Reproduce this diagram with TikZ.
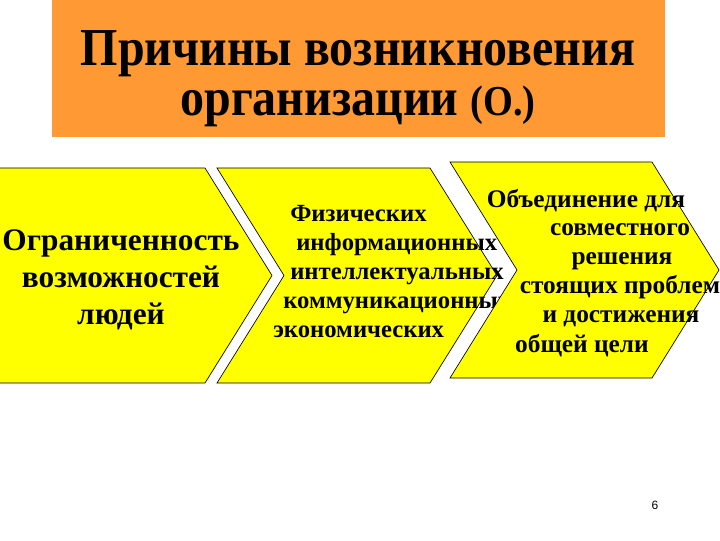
\documentclass[tikz,border=0pt]{standalone}
\usepackage{fontspec}
\setmainfont{Liberation Serif}
\setsansfont{Liberation Sans}
\definecolor{titleorange}{RGB}{255,153,51}
\definecolor{chevronyellow}{RGB}{255,255,0}
\newcommand{\tipdepth}{67}
\tikzset{
    chevron/.style={draw=black, fill=chevronyellow, line width=0.5pt, line join=miter},
    titlebox/.style={fill=titleorange},
    titletext/.style={font=\bfseries\fontsize{40}{44}\selectfont, anchor=base, xscale=0.9, inner sep=0pt},
    causetext/.style={font=\bfseries\fontsize{23.5}{27.5}\selectfont, align=center},
    resource/.style={font=\bfseries\fontsize{18.5}{22}\selectfont, anchor=base west, inner sep=0pt},
    goal/.style={font=\bfseries\fontsize{19}{22}\selectfont, anchor=base, inner sep=0pt},
    pagenum/.style={font=\sffamily\fontsize{9}{10}\selectfont}
}

\begin{document}
\begin{tikzpicture}[x=0.75pt, y=-0.75pt]
          % left, right, top, bottom, notch depth
          \newcommand\chevronpath[5]{
            \draw[chevron]
              (#1,#3) -- (#2,#3) -- ++(\tipdepth,{(#4-#3)/2}) -- (#2,#4)
              -- (#1,#4) -- ++(#5,{-(#4-#3)/2}) -- cycle;
          }

          \useasboundingbox (0,0) rectangle (720,540);

          \fill[titlebox] (52,0) rectangle (665,137);
          \node[titletext] (title-1) at (358,65) {Причины возникновения};
          \node[titletext] (title-2) at (358,115)
            {организации {\fontsize{32}{36}\selectfont(О.)}};

          \chevronpath{-10}{205}{168}{383}{0};
          \node[causetext] (cause) at (121,280) {Ограниченность\\возможностей\\людей};

          \chevronpath{217}{430}{168}{383}{\tipdepth};
          \foreach \txt/\xpos/\ypos [count=\i] in {
              Физических/290/221,
              информационных/296/250,
              интеллектуальных/290/279,
              коммуникационных/283/308,
              экономических/273/337}
            \node[resource] (res-\i) at (\xpos,\ypos) {\txt};

          \chevronpath{450}{652}{162}{378}{\tipdepth};
          \foreach \txt/\xpos/\ypos [count=\i] in {
              Объединение для/586/207,
              совместного/620/235,
              решения/622/264,
              стоящих проблем/620/293,
              и достижения/621/322,
              общей цели/582/352}
            \node[goal] (goal-\i) at (\xpos,\ypos) {\txt};

          \node[pagenum] (page) at (655,505) {6};
\end{tikzpicture}
\end{document}
